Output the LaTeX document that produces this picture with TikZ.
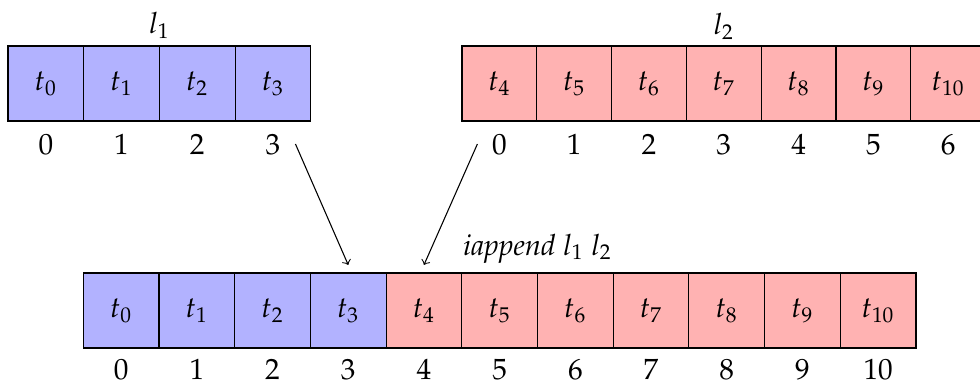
\documentclass[tikz,border=0pt]{standalone}
\usepackage[T1]{fontenc}
\usepackage{mathpazo}
\usetikzlibrary{calc}
\begin{document}
\begin{tikzpicture}[x=0.013158cm,y=-0.013158cm,
  every node/.style={font=\fontsize{10.95}{13}\selectfont},
  cell/.style={draw=black, line width=0.4pt, minimum width=0.996cm, minimum height=0.987cm, inner sep=0pt, outer sep=0pt},
  narrowcell/.style={cell, minimum width=0.984cm},
  bluecell/.style={fill=blue!30},
  redcell/.style={fill=red!30},
  idx/.style={inner sep=0pt},
  lbl/.style={inner sep=0pt},
  arr/.style={->, line width=0.4pt}]
\clip (0,0) rectangle (980,385);
% l1
\foreach \k in {0,...,3} {
  \node[cell,bluecell] (a\k) at ({45.85+75.7*\k},83.5) {$t_{\k}$};
  \node[idx] (ia\k) at ({45.85+75.7*\k},144.5) {\k};
}
% l2
\foreach \k [evaluate=\k as \t using int(\k+4)] in {0,...,6} {
  \node[narrowcell,redcell] (b\k) at ({499.4+74.8*\k},83.5) {$t_{\t}$};
  \node[idx] (ib\k) at ({499.4+74.8*\k},144.5) {\k};
}
% result
\foreach \k in {0,...,10} {
  \ifnum\k<4
    \node[cell,bluecell] (c\k) at ({121.15+75.7*\k},310.5) {$t_{\k}$};
  \else
    \node[cell,redcell] (c\k) at ({121.15+75.7*\k},310.5) {$t_{\k}$};
  \fi
  \node[idx] (ic\k) at ({121.15+75.7*\k},369.5) {\k};
}
\node[lbl] (la) at (159.5,25.5) {$l_1$};
\node[lbl] (lb) at (723.8,26.5) {$l_2$};
\node[lbl] (lc) at (537.5,248.5) {\textit{iappend} $l_1$ $l_2$};
\coordinate (s1) at ($(ia3.center)+(22.5,-0.5)$);
\coordinate (e1) at ($(c3.north)+(0,-8)$);
\coordinate (s2) at ($(ib0.center)+(-22,-0.5)$);
\coordinate (e2) at ($(c4.north)+(0,-8)$);
\draw[arr] (s1) -- (e1);
\draw[arr] (s2) -- (e2);
\end{tikzpicture}
\end{document}
